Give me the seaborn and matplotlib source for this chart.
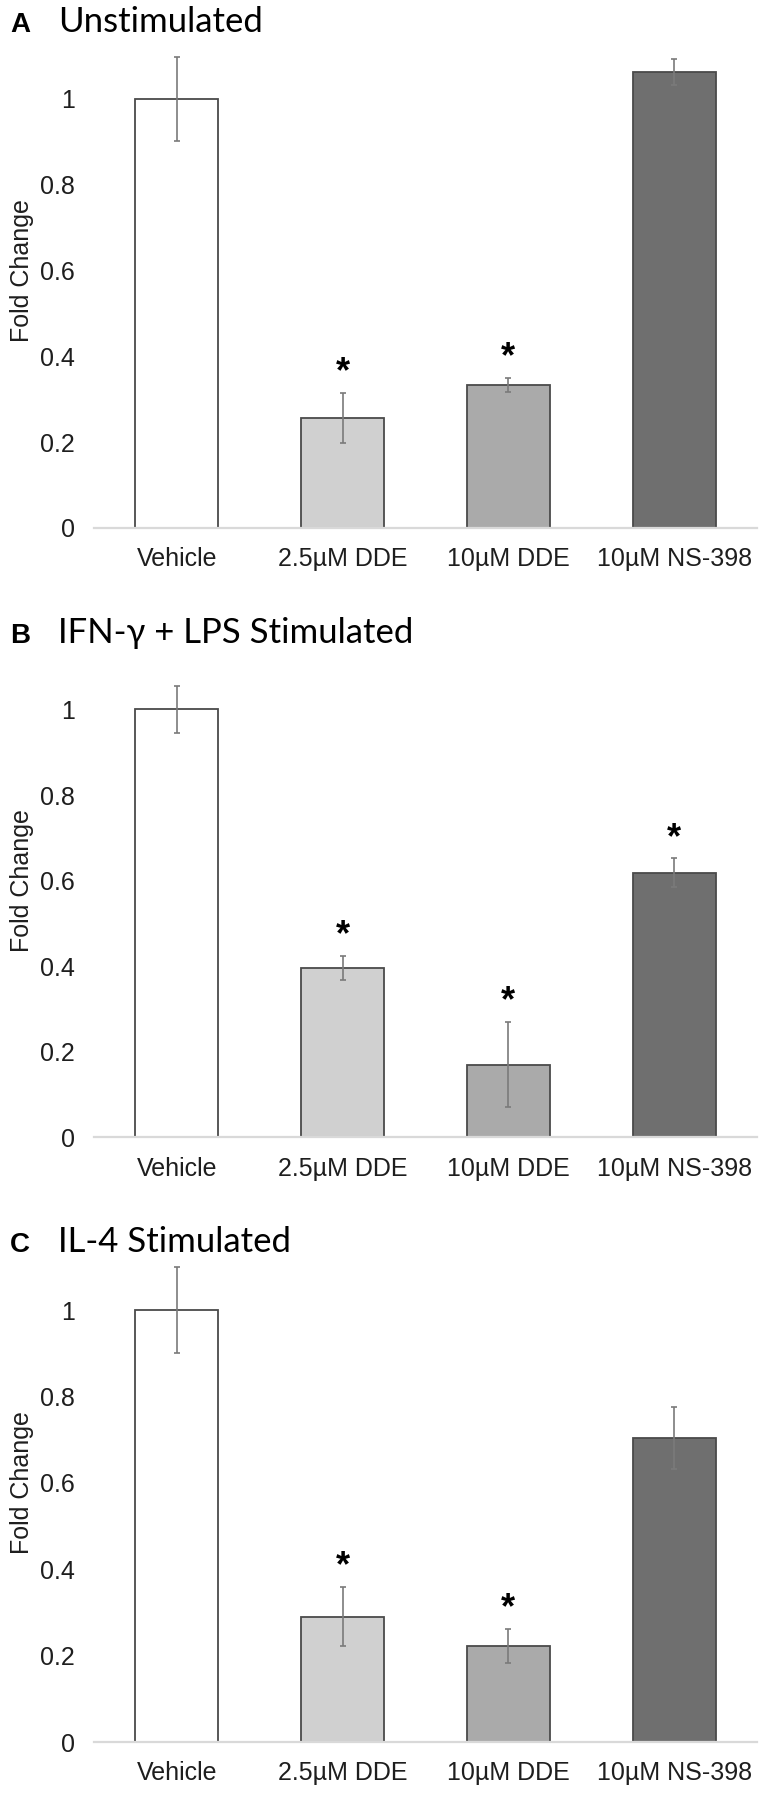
import pandas as pd
import matplotlib
matplotlib.use("Agg")
import matplotlib.pyplot as plt
import seaborn as sns

# Data
treatments = ['Vehicle', '2.5µM DDE', '10µM DDE', '10µM NS-398']
bar_colors = ['#ffffff', '#d0d0d0', '#aaaaaa', '#6f6f6f']

unstim_mean = [1.0, 0.256, 0.333, 1.063]
unstim_err = [0.098, 0.058, 0.017, 0.031]
unstim_sig = [False, True, True, False]

ifn_mean = [1.0, 0.396, 0.170, 0.618]
ifn_err = [0.056, 0.029, 0.100, 0.034]
ifn_sig = [False, True, True, True]

il4_mean = [1.0, 0.290, 0.222, 0.703]
il4_err = [0.100, 0.068, 0.040, 0.072]
il4_sig = [False, True, True, False]

panel_letters = ['A', 'B', 'C']
panel_titles = ['Unstimulated', 'IFN-γ + LPS Stimulated', 'IL-4 Stimulated']
y_ticks = [0, 0.2, 0.4, 0.6, 0.8, 1]
y_tick_labels = ['0', '0.2', '0.4', '0.6', '0.8', '1']

sns.set_theme(style='white')
plt.rcParams['font.family'] = ['Liberation Sans', 'DejaVu Sans']

fig = plt.figure(figsize=(7.69, 18), dpi=100)

# axes boxes [left, bottom, width, height] in figure fractions, and title baseline
layout = [
    ([0.1222, 0.7067, 0.8622, 0.2860], 0.9822),
    ([0.1222, 0.3681, 0.8622, 0.2853], 0.6428),
    ([0.1222, 0.0322, 0.8622, 0.2880], 0.3044),
]

panels = [
    (unstim_mean, unstim_err, unstim_sig),
    (ifn_mean, ifn_err, ifn_sig),
    (il4_mean, il4_err, il4_sig),
]

for (box, title_y), (means, errs, sig), letter, title in zip(layout, panels, panel_letters, panel_titles):
    ax = fig.add_axes(box)
    df = pd.DataFrame({'treatment': treatments, 'fold': means})
    sns.barplot(data=df, x='treatment', y='fold', hue='treatment', palette=bar_colors,
                width=0.5, edgecolor='#4a4a4a', linewidth=1.3, errorbar=None,
                legend=False, ax=ax)
    ax.errorbar(range(len(treatments)), means, yerr=errs, fmt='none',
                ecolor='#7a7a7a', elinewidth=1.2, capsize=2.5, capthick=1.2)

    for i, (m, e, s) in enumerate(zip(means, errs, sig)):
        if s:
            ax.text(i, m + e + 0.025, '*', ha='center', va='baseline',
                    fontsize=26, fontweight='bold', color='black')

    ax.set_xlim(-0.5, 3.5)
    ax.set_ylim(0, 1.2)
    ax.set_yticks(y_ticks)
    ax.set_yticklabels(y_tick_labels, fontsize=18)
    ax.set_xticks(range(len(treatments)))
    ax.set_xticklabels(treatments, fontsize=18)
    ax.tick_params(axis='both', length=0, colors='#1e1e1e')
    ax.tick_params(axis='y', pad=13.5)
    ax.tick_params(axis='x', pad=14)
    ax.set_xlabel('')
    ax.set_ylabel('')
    for side in ['top', 'right', 'left']:
        ax.spines[side].set_visible(False)
    ax.spines['bottom'].set_color('#d9d9d9')
    ax.spines['bottom'].set_linewidth(1.6)

    # y label centred on the axis
    fig.text(22 / 769, box[1] + box[3] / 2, 'Fold Change', rotation=90,
             ha='center', va='center', fontsize=18, color='#1e1e1e')

    fig.text(10 / 769, title_y, letter, ha='left', va='baseline',
             fontsize=20, fontweight='bold', color='black')
    fig.text(58 / 769, title_y, title, ha='left', va='baseline',
             fontsize=25, family=['Lato', 'DejaVu Sans'], color='black')

fig.savefig('out.png', dpi=100)
